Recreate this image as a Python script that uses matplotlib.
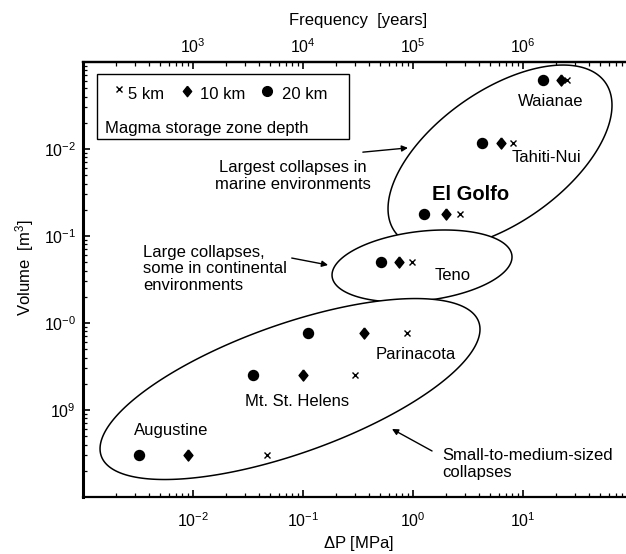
import numpy as np
import matplotlib
matplotlib.use("Agg")
import matplotlib.pyplot as plt
from matplotlib.ticker import LogLocator, NullFormatter

plt.rcParams['font.family'] = ['Liberation Sans', 'DejaVu Sans']
plt.rcParams['mathtext.default'] = 'regular'

# Collapse volumes and the overpressure needed for each magma-chamber depth
volcanoes = ["Augustine", "Mt. St. Helens", "Parinacota", "Teno",
             "El Golfo", "Tahiti-Nui", "Waianae"]
volume_m3 = [3.0e8, 2.5e9, 7.7e9, 5.0e10, 1.8e11, 1.17e12, 6.2e12]
dp_20km = [0.0032, 0.035, 0.11, 0.51, 1.26, 4.2, 15.2]
dp_10km = [0.009, 0.10, 0.36, 0.75, 2.0, 6.3, 22.0]
dp_5km = [0.047, 0.30, 0.88, 0.98, 2.7, 8.1, 25.0]

x_ticks = [1e-2, 1e-1, 1e0, 1e1]
x_tick_labels = ['$10^{-2}$', '$10^{-1}$', '$10^{0}$', '$10^{1}$']
y_ticks = [1e9, 1e10, 1e11, 1e12]
y_tick_labels = ['$10^{9}$', '$10^{-0}$', '$10^{-1}$', '$10^{-2}$']
freq_ticks = [1e3, 1e4, 1e5, 1e6]
freq_tick_labels = ['$10^{3}$', '$10^{4}$', '$10^{5}$', '$10^{6}$']

fig = plt.figure(figsize=(6.26, 5.54), dpi=100)
ax = fig.add_axes([83 / 626, 57 / 554, 550 / 626, 435 / 554])
ax.set_xscale('log')
ax.set_yscale('log')
ax.set_xlim(1e-3, 1e2)
ax.set_ylim(1e8, 1e13)


def ellipse(cx, wx, cy, wy, r, n=500):
    """Ellipse in log10 space given its bounding half-widths and tilt."""
    t = np.linspace(0, 2 * np.pi, n)
    lx = cx + wx * np.cos(t)
    ly = cy + wy * (r * np.cos(t) + np.sqrt(1 - r * r) * np.sin(t))
    return 10 ** lx, 10 ** ly


# Collapse-size groups
gx, gy = ellipse(0.791, 1.018, 11.908, 1.057, 0.5625)
ax.fill(gx, gy, facecolor='white', edgecolor='black', lw=1.1, zorder=1)
gx, gy = ellipse(0.082, 0.818, 10.655, 0.414, 0.25)
ax.fill(gx, gy, facecolor='white', edgecolor='black', lw=1.1, zorder=2)
gx, gy = ellipse(-1.118, 1.727, 9.241, 1.04, 0.66)
ax.fill(gx, gy, facecolor='white', edgecolor='black', lw=1.1, zorder=3)

diamond = [(0, 1), (0.8, 0), (0, -1), (-0.8, 0), (0, 1)]

ax.plot(dp_20km, volume_m3, ls='none', marker='o', ms=7.2, color='black', zorder=5)
ax.plot(dp_10km, volume_m3, ls='none', marker=diamond, ms=8, color='black', zorder=5)
ax.plot(dp_5km, volume_m3, ls='none', marker='x', ms=4.2, mew=1.0, color='black', zorder=5)

fs = 12
ax.text(18.0, 3.47e12, "Waianae", ha='center', va='center', fontsize=fs, zorder=6)
ax.text(16.2, 7.9e11, "Tahiti-Nui", ha='center', va='center', fontsize=fs, zorder=6)
ax.text(3.37, 2.96e11, "El Golfo", ha='center', va='center', fontsize=14.5,
        fontweight='bold', zorder=6)
ax.text(2.31, 3.56e10, "Teno", ha='center', va='center', fontsize=fs, zorder=6)
ax.text(1.06, 4.29e9, "Parinacota", ha='center', va='center', fontsize=fs, zorder=6)
ax.text(0.088, 1.24e9, "Mt. St. Helens", ha='center', va='center', fontsize=fs, zorder=6)
ax.text(0.0063, 5.74e8, "Augustine", ha='center', va='center', fontsize=fs, zorder=6)

ax.text(0.081, 4.9e11, "Largest collapses in\nmarine environments", ha='center',
        va='center', fontsize=fs, linespacing=1.15, zorder=6)
ax.text(0.0035, 4.18e10, "Large collapses,\nsome in continental\nenvironments",
        ha='left', va='center', fontsize=fs, linespacing=1.15, zorder=6)
ax.text(1.84, 2.39e8, "Small-to-medium-sized\ncollapses", ha='left', va='center',
        fontsize=fs, linespacing=1.15, zorder=6)

arrow_kw = dict(arrowstyle='-|>', lw=1.0, color='black', mutation_scale=9,
                shrinkA=0, shrinkB=0)
ax.annotate('', xy=(0.90, 1.03e12), xytext=(0.35, 9.2e11), arrowprops=arrow_kw, zorder=6)
ax.annotate('', xy=(0.169, 4.64e10), xytext=(0.079, 5.58e10), arrowprops=arrow_kw, zorder=6)
ax.annotate('', xy=(0.644, 6.05e8), xytext=(1.49, 3.38e8), arrowprops=arrow_kw, zorder=6)

# Legend box for magma storage depth
ax.add_patch(plt.Rectangle((0.0255, 0.823), 0.4581, 0.1494, transform=ax.transAxes,
                           facecolor='white', edgecolor='black', lw=1.0, zorder=6))
ax.plot([0.0655], [0.938], transform=ax.transAxes, marker='x', ms=4.5, mew=1.0,
        color='black', zorder=7)
ax.text(0.0818, 0.925, "5 km", transform=ax.transAxes, ha='left', va='center',
        fontsize=fs, zorder=7)
ax.plot([0.189], [0.933], transform=ax.transAxes, marker=diamond, ms=7.5,
        color='black', zorder=7)
ax.text(0.2127, 0.925, "10 km", transform=ax.transAxes, ha='left', va='center',
        fontsize=fs, zorder=7)
ax.plot([0.3345], [0.933], transform=ax.transAxes, marker='o', ms=7,
        color='black', zorder=7)
ax.text(0.3618, 0.925, "20 km", transform=ax.transAxes, ha='left', va='center',
        fontsize=fs, zorder=7)
ax.text(0.040, 0.848, "Magma storage zone depth", transform=ax.transAxes,
        ha='left', va='center', fontsize=fs, zorder=7)

# Axes, ticks and labels
ax.set_xticks(x_ticks, labels=x_tick_labels)
ax.set_yticks(y_ticks, labels=y_tick_labels)
ax.xaxis.set_minor_locator(LogLocator(base=10, subs=np.arange(2, 10), numticks=20))
ax.yaxis.set_minor_locator(LogLocator(base=10, subs=np.arange(2, 10), numticks=20))
ax.xaxis.set_minor_formatter(NullFormatter())
ax.yaxis.set_minor_formatter(NullFormatter())
ax.tick_params(which='both', direction='in', top=False, right=False, labelsize=11.5)
ax.tick_params(which='major', length=5, width=1.2)
ax.tick_params(which='minor', length=3, width=0.9)
ax.tick_params(axis='x', pad=10)
ax.tick_params(axis='y', pad=5)
for side, lw in (('left', 2.2), ('bottom', 1.6), ('top', 1.6), ('right', 1.6)):
    ax.spines[side].set_linewidth(lw)

ax.set_xlabel(r"$\Delta$P [MPa]", fontsize=12, labelpad=3)
ax.set_ylabel("Volume  [m$^3$]", fontsize=12, labelpad=6)
ax.yaxis.set_label_coords(-0.085, 0.526)

top = ax.secondary_xaxis('top', functions=(lambda x: x * 1e5, lambda f: f / 1e5))
top.set_xticks(freq_ticks, labels=freq_tick_labels)
top.xaxis.set_minor_locator(LogLocator(base=10, subs=np.arange(2, 10), numticks=20))
top.xaxis.set_minor_formatter(NullFormatter())
top.tick_params(which='both', direction='in', labelsize=11.5, pad=4)
top.tick_params(which='major', length=5, width=1.2)
top.tick_params(which='minor', length=3, width=0.9)
top.spines['top'].set_linewidth(1.6)
top.set_xlabel("Frequency  [years]", fontsize=12, labelpad=9)

fig.savefig("out.png", dpi=100)
